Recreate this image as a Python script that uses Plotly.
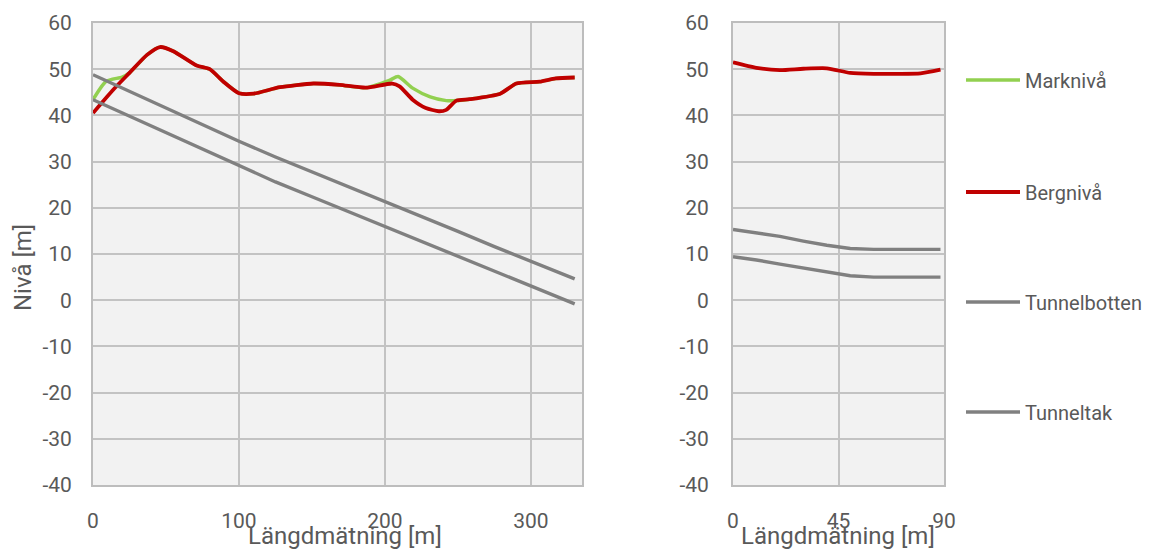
import plotly.graph_objects as go

# ---- Left panel data ----
mark_x = [0, 9, 20, 25, 37, 46, 55, 71, 80, 89, 100, 110, 128, 151, 169, 187, 203, 209, 219, 231, 242, 249, 258, 279, 290, 306, 317, 330]
mark_y = [43.4, 47.4, 48.3, 49.2, 53.1, 54.8, 53.9, 50.8, 50.0, 47.4, 44.8, 44.7, 46.1, 46.9, 46.6, 46.0, 47.6, 48.4, 45.9, 44.0, 43.2, 43.2, 43.5, 44.7, 46.9, 47.3, 48.0, 48.2]

berg_x = [0, 14, 25, 37, 46, 55, 71, 80, 89, 100, 110, 128, 151, 169, 187, 205, 210, 219, 228, 237, 242, 249, 258, 279, 290, 306, 317, 330]
berg_y = [40.5, 45.6, 49.2, 53.1, 54.8, 53.9, 50.8, 50.0, 47.4, 44.8, 44.7, 46.1, 46.9, 46.6, 46.0, 46.9, 46.3, 43.4, 41.6, 40.9, 41.2, 43.2, 43.5, 44.7, 46.9, 47.3, 48.0, 48.2]

tunnel_x = [0, 25, 50, 75, 100, 125, 150, 175, 200, 225, 250, 275, 300, 330]
tak_y = [48.8, 45.2, 41.6, 38.0, 34.4, 31.0, 27.8, 24.6, 21.4, 18.2, 14.9, 11.6, 8.4, 4.6]
botten_y = [43.4, 39.8, 36.2, 32.6, 29.0, 25.6, 22.4, 19.2, 16.0, 12.8, 9.5, 6.2, 3.0, -0.8]

# ---- Right panel data ----
r_x = [0, 10, 20, 30, 40, 50, 60, 70, 80, 88.5]
r_berg_y = [51.5, 50.3, 49.8, 50.1, 50.2, 49.2, 49.0, 49.0, 49.1, 49.9]
r_tak_y = [15.3, 14.6, 13.8, 12.8, 11.9, 11.2, 11.0, 11.0, 11.0, 11.0]
r_botten_y = [9.4, 8.7, 7.8, 7.0, 6.1, 5.3, 5.0, 5.0, 5.0, 5.0]

left_ticks = [0, 100, 200, 300]
right_ticks = [0, 45, 90]
y_ticks = [60, 50, 40, 30, 20, 10, 0, -10, -20, -30, -40]
y_ticktext = ["60", "50", "40", "30", "20", "10", "0", "-10", "-20", "-30", "-40"]

GREEN = "#92d050"
RED = "#c00000"
GRAY = "#808080"
FONT = "Roboto"
TXT = "#595959"

# page has an 8px body margin; figure sized so it reaches the window's right/bottom edges
OFF = 8
FW, FH = 1150 - OFF, 551 - OFF


def px(x):
    return (x - OFF) / FW


def py(y):
    return 1 - (y - OFF) / FH


fig = go.Figure()

# left panel traces (with legend)
fig.add_trace(go.Scatter(x=mark_x, y=mark_y, mode="lines", name="Marknivå",
                         line=dict(color=GREEN, width=3.5, shape="spline", smoothing=0.6),
                         xaxis="x", yaxis="y", legend="legend"))
fig.add_trace(go.Scatter(x=berg_x, y=berg_y, mode="lines", name="Bergnivå",
                         line=dict(color=RED, width=3.8, shape="spline", smoothing=0.6),
                         xaxis="x", yaxis="y", legend="legend2"))
fig.add_trace(go.Scatter(x=tunnel_x, y=botten_y, mode="lines", name="Tunnelbotten",
                         line=dict(color=GRAY, width=3.4),
                         xaxis="x", yaxis="y", legend="legend3"))
fig.add_trace(go.Scatter(x=tunnel_x, y=tak_y, mode="lines", name="Tunneltak",
                         line=dict(color=GRAY, width=3.4),
                         xaxis="x", yaxis="y", legend="legend4"))

# right panel traces
fig.add_trace(go.Scatter(x=r_x, y=r_berg_y, mode="lines", name="Bergnivå",
                         line=dict(color=RED, width=3.8, shape="spline", smoothing=0.6),
                         xaxis="x2", yaxis="y2", showlegend=False))
fig.add_trace(go.Scatter(x=r_x, y=r_tak_y, mode="lines", name="Tunneltak",
                         line=dict(color=GRAY, width=3.4),
                         xaxis="x2", yaxis="y2", showlegend=False))
fig.add_trace(go.Scatter(x=r_x, y=r_botten_y, mode="lines", name="Tunnelbotten",
                         line=dict(color=GRAY, width=3.4),
                         xaxis="x2", yaxis="y2", showlegend=False))

ydom = [py(485), py(23)]

axis_common = dict(showgrid=True, gridcolor="#c3c3c3", gridwidth=1.5,
                   zeroline=False, showline=True, linecolor="#bdbdbd", linewidth=2,
                   mirror=True, ticks="", automargin=False,
                   tickfont=dict(family=FONT, size=21, color=TXT))

fig.update_layout(
    width=FW, height=FH,
    margin=dict(l=0, r=0, t=0, b=0, autoexpand=False),
    paper_bgcolor="white",
    plot_bgcolor="#f2f2f2",
    font=dict(family=FONT, color=TXT),
    xaxis=dict(domain=[px(93), px(582)], range=[0, 335], tickvals=left_ticks,
               ticklabelstandoff=16, anchor="y", **axis_common),
    yaxis=dict(domain=ydom, range=[-40, 60], tickvals=y_ticks, ticktext=y_ticktext,
               ticklabelstandoff=15, anchor="x", **axis_common),
    xaxis2=dict(domain=[px(733), px(944)], range=[0, 90], tickvals=right_ticks,
                ticklabelstandoff=16, anchor="y2", **axis_common),
    yaxis2=dict(domain=ydom, range=[-40, 60], tickvals=y_ticks, ticktext=y_ticktext,
                ticklabelstandoff=18, anchor="x2", **axis_common),
)

leg_common = dict(font=dict(family=FONT, size=20, color=TXT), bgcolor="rgba(0,0,0,0)",
                  xanchor="left", yanchor="middle", x=px(961), itemwidth=54)
fig.update_layout(
    legend=dict(y=py(80), **leg_common),
    legend2=dict(y=py(192), **leg_common),
    legend3=dict(y=py(302), **leg_common),
    legend4=dict(y=py(412), **leg_common),
)

fig.add_annotation(text="Nivå [m]", xref="paper", yref="paper", x=px(23), y=py(268),
                   textangle=-90, showarrow=False, xanchor="center", yanchor="middle",
                   font=dict(family=FONT, size=24, color=TXT))
fig.add_annotation(text="Längdmätning [m]", xref="paper", yref="paper", x=px(345), y=py(536),
                   showarrow=False, xanchor="center", yanchor="middle",
                   font=dict(family=FONT, size=24, color=TXT))
fig.add_annotation(text="Längdmätning [m]", xref="paper", yref="paper", x=px(838), y=py(536),
                   showarrow=False, xanchor="center", yanchor="middle",
                   font=dict(family=FONT, size=24, color=TXT))

fig.write_html("out.html")
